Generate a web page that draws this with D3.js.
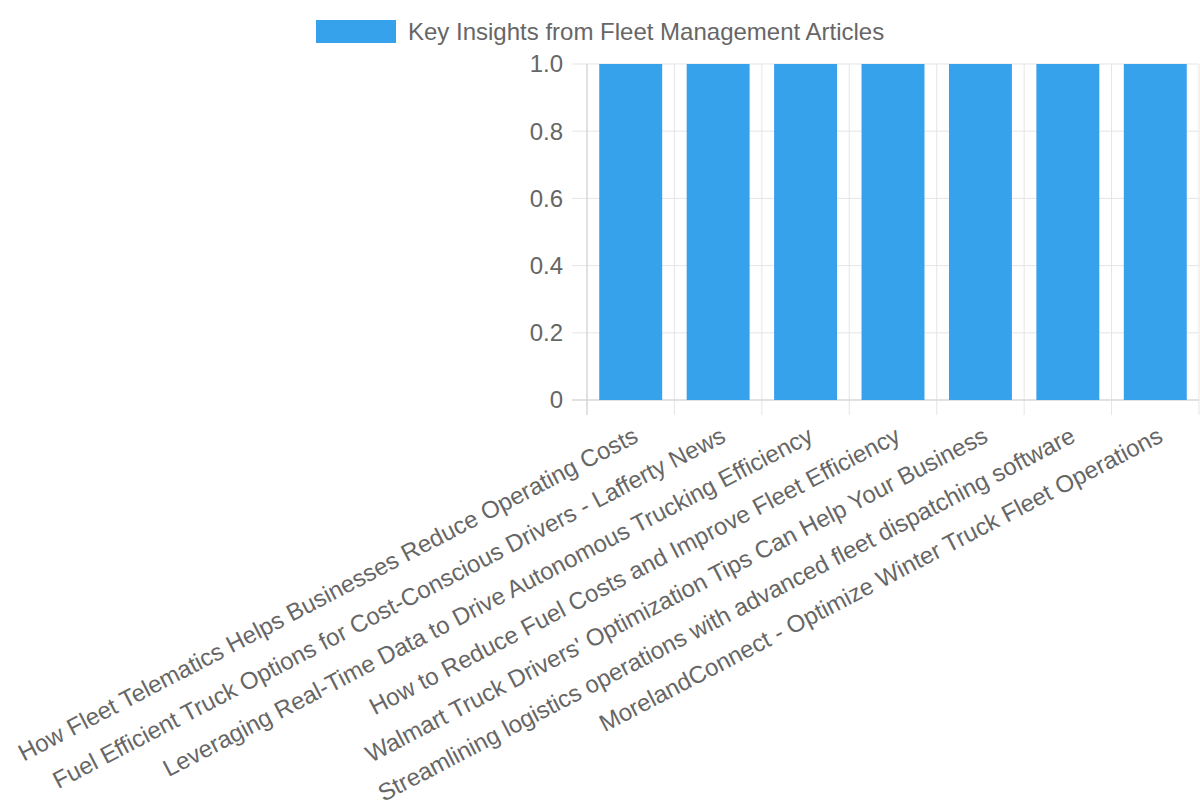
<!DOCTYPE html>
<html lang="en">
<head>
    <meta charset="UTF-8">
    <title>Key Insights from Fleet Management Articles</title>
    <script src="https://d3js.org/d3.v7.min.js"></script>
    <style>
        body {
            margin: 0;
            background: #ffffff;
            font-family: 'Liberation Sans', Arial, Helvetica, sans-serif;
        }
    </style>
</head>
<body>
    <svg width="1200" height="800"></svg>
    <script>
        // Chart data
        const categories = [
            "How Fleet Telematics Helps Businesses Reduce Operating Costs",
            "Fuel Efficient Truck Options for Cost-Conscious Drivers - Lafferty News",
            "Leveraging Real-Time Data to Drive Autonomous Trucking Efficiency",
            "How to Reduce Fuel Costs and Improve Fleet Efficiency",
            "Walmart Truck Drivers' Optimization Tips Can Help Your Business",
            "Streamlining logistics operations with advanced fleet dispatching software",
            "MorelandConnect - Optimize Winter Truck Fleet Operations"
        ];
        const values = [1, 1, 1, 1, 1, 1, 1];
        const yTicks = [0, 0.2, 0.4, 0.6, 0.8, 1.0];
        const seriesName = "Key Insights from Fleet Management Articles";

        const barColor = "#36a2eb";
        const gridColor = "#e5e5e5";
        const textColor = "#666666";
        const fontSize = "24px";

        // Plot area
        const plot = { left: 587, right: 1199, top: 64, bottom: 400 };

        const svg = d3.select("svg");

        const x = d3.scaleBand()
            .domain(categories)
            .range([plot.left, plot.right]);

        const y = d3.scaleLinear()
            .domain([0, 1])
            .range([plot.bottom, plot.top]);

        // Horizontal grid lines
        svg.append("g")
            .selectAll("line")
            .data(yTicks)
            .enter()
            .append("line")
            .attr("x1", plot.left - 15)
            .attr("x2", plot.right)
            .attr("y1", d => y(d))
            .attr("y2", d => y(d))
            .attr("stroke", gridColor)
            .attr("stroke-width", 1);

        // Vertical grid lines (category boundaries)
        const bounds = categories.map(c => x(c)).concat([plot.right]);
        svg.append("g")
            .selectAll("line")
            .data(bounds)
            .enter()
            .append("line")
            .attr("x1", d => d)
            .attr("x2", d => d)
            .attr("y1", plot.top)
            .attr("y2", plot.bottom + 15)
            .attr("stroke", gridColor)
            .attr("stroke-width", 1);

        // Axis lines
        svg.append("line")
            .attr("x1", plot.left).attr("x2", plot.left)
            .attr("y1", plot.top).attr("y2", plot.bottom + 15)
            .attr("stroke", "#d0d0d0");
        svg.append("line")
            .attr("x1", plot.left - 15).attr("x2", plot.right)
            .attr("y1", plot.bottom).attr("y2", plot.bottom)
            .attr("stroke", "#d0d0d0");

        // Bars
        const barWidth = x.bandwidth() * 0.72;
        svg.append("g")
            .selectAll("rect")
            .data(values)
            .enter()
            .append("rect")
            .attr("x", (d, i) => x(categories[i]) + (x.bandwidth() - barWidth) / 2)
            .attr("y", d => y(d))
            .attr("width", barWidth)
            .attr("height", d => y(0) - y(d))
            .attr("fill", barColor);

        // Y tick labels
        svg.append("g")
            .selectAll("text")
            .data(yTicks)
            .enter()
            .append("text")
            .attr("x", plot.left - 24)
            .attr("y", d => y(d))
            .attr("dy", "0.35em")
            .attr("text-anchor", "end")
            .attr("fill", textColor)
            .style("font-size", fontSize)
            .text(d => d === 0 ? "0" : d3.format(".1f")(d));

        // X tick labels, rotated
        svg.append("g")
            .selectAll("text")
            .data(categories)
            .enter()
            .append("text")
            .attr("transform", d => `translate(${x(d) + x.bandwidth() / 2 + 9},${plot.bottom + 41}) rotate(-27.5)`)
            .attr("text-anchor", "end")
            .attr("fill", textColor)
            .style("font-size", fontSize)
            .text(d => d);

        // Legend
        const legend = svg.append("g");
        legend.append("rect")
            .attr("x", 316)
            .attr("y", 20)
            .attr("width", 80)
            .attr("height", 23)
            .attr("fill", barColor);
        legend.append("text")
            .attr("x", 408)
            .attr("y", 32)
            .attr("dy", "0.35em")
            .attr("fill", textColor)
            .style("font-size", fontSize)
            .text(seriesName);
    </script>
</body>
</html>
